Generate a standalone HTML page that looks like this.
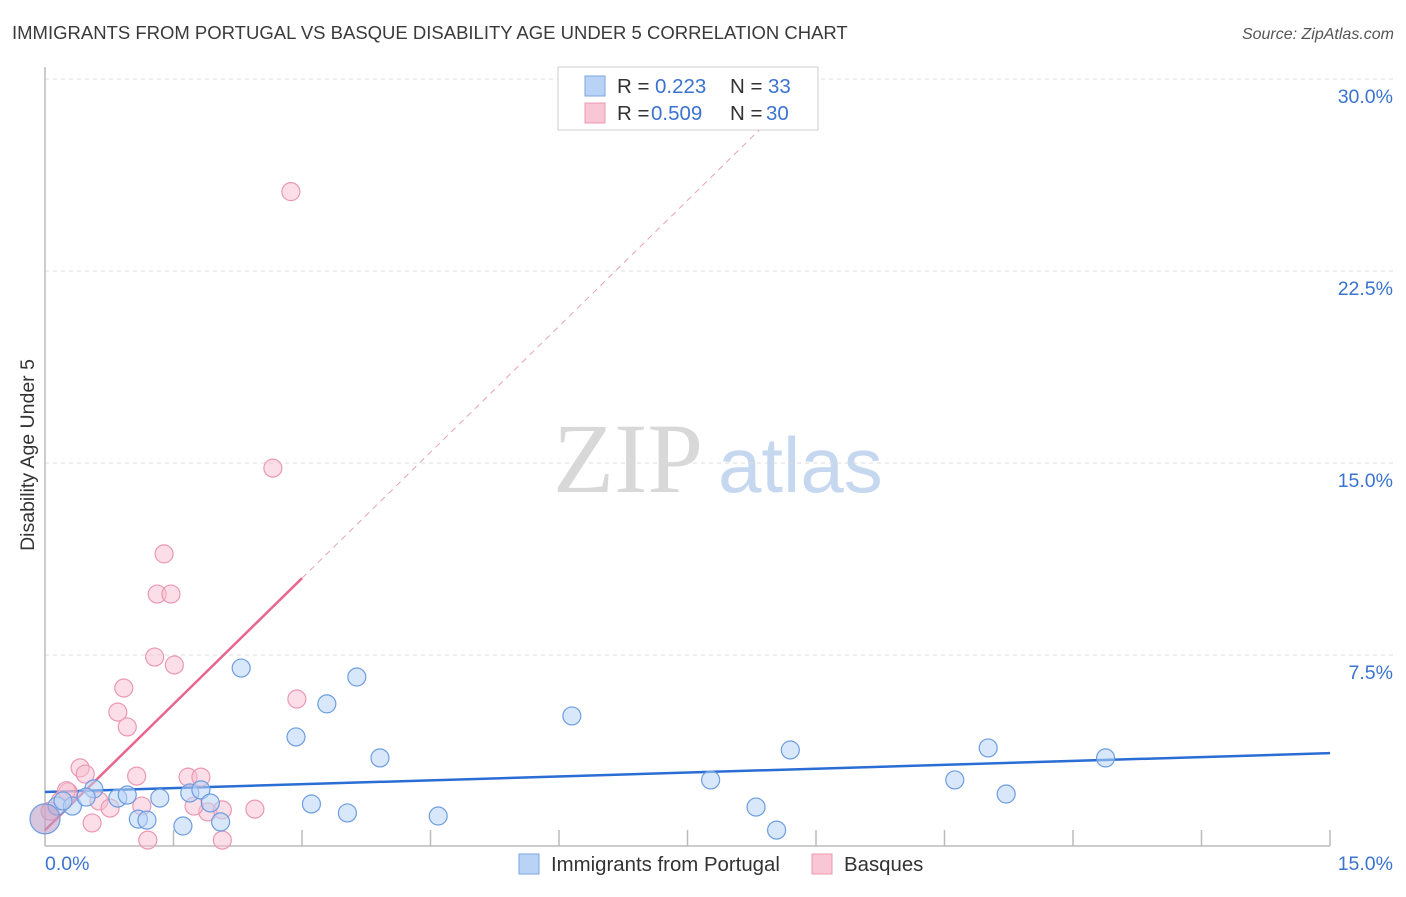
<!DOCTYPE html>
<html><head><meta charset="utf-8"><style>
body{margin:0;background:#fff;font-family:"Liberation Sans",sans-serif;}
</style></head><body>
<svg id="chart" width="1406" height="892" xmlns="http://www.w3.org/2000/svg" font-family="Liberation Sans, sans-serif">
<text x="12" y="39" font-size="18.5" fill="#3a3a3a">IMMIGRANTS FROM PORTUGAL VS BASQUE DISABILITY AGE UNDER 5 CORRELATION CHART</text>
<text x="1394" y="39" font-size="16" fill="#555" font-style="italic" text-anchor="end">Source: ZipAtlas.com</text>
<text transform="translate(34,455) rotate(-90)" font-size="19.5" fill="#333" text-anchor="middle">Disability Age Under 5</text>
<g>
<text x="553" y="492" font-size="100" fill="#d8d8d8" style="font-family:'Liberation Serif',serif">ZIP</text>
<text x="718" y="492" font-size="78" fill="#c6d8f0">atlas</text>
</g>
<g id="grid"></g>
<g id="axes"></g>
<g id="lines"></g>
<g id="pts"></g>
<g>
<rect x="558" y="67" width="260" height="63" fill="#fff" stroke="#ccc"/>
<rect x="585" y="76" width="20" height="20" fill="#b8d3f5" stroke="#7aa6e0"/>
<text x="617" y="93" font-size="20.5" fill="#333">R = </text><text x="655" y="93" font-size="20.5" fill="#3b73d0">0.223</text>
<text x="730" y="93" font-size="20.5" fill="#333">N = </text><text x="768" y="93" font-size="20.5" fill="#3b73d0">33</text>
<rect x="585" y="103" width="20" height="20" fill="#f8c6d5" stroke="#eb98b2"/>
<text x="617" y="120" font-size="20.5" fill="#333">R = </text><text x="651" y="120" font-size="20.5" fill="#3b73d0">0.509</text>
<text x="730" y="120" font-size="20.5" fill="#333">N = </text><text x="766" y="120" font-size="20.5" fill="#3b73d0">30</text>
</g>
<g>
<rect x="519" y="854" width="20" height="20" fill="#b8d3f5" stroke="#7aa6e0"/>
<text x="551" y="871" font-size="20.4" fill="#333">Immigrants from Portugal</text>
<rect x="812" y="854" width="20" height="20" fill="#f8c6d5" stroke="#eb98b2"/>
<text x="844" y="871" font-size="20.4" fill="#333">Basques</text>
</g>
</svg>
<script>
const yTicks=[7.5,15,22.5,30];
const yTickLabels=["7.5%","15.0%","22.5%","30.0%"];
const xTickLabels=["0.0%","15.0%"];
const blueX=[0.14,0.32,0.57,0.85,0.96,1.09,1.19,1.34,1.61,1.69,1.82,1.93,2.05,2.29,2.93,3.11,3.29,3.53,3.64,3.91,4.59,6.15,7.77,8.30,8.54,8.70,10.62,11.01,11.22,12.38,0.0,0.48,0.21];
const blueY=[1.6,1.6,2.27,1.91,2.03,1.09,1.05,1.91,0.82,2.11,2.23,1.72,0.98,6.99,4.3,1.68,5.59,1.33,6.64,3.48,1.21,5.12,2.62,1.56,0.66,3.79,2.62,3.87,2.07,3.48,1.1,1.95,1.8];
const pinkX=[2.87,2.66,1.39,1.31,1.47,1.28,1.51,0.92,0.85,0.96,2.94,0.41,0.47,1.07,1.67,1.82,0.27,0.55,0.63,0.76,1.13,1.90,2.07,2.45,1.20,2.07,0.18,0.06,0.25,1.74];
const pinkY=[25.6,14.8,11.45,9.88,9.88,7.42,7.11,6.21,5.27,4.69,5.78,3.09,2.85,2.77,2.73,2.73,2.15,0.94,1.8,1.52,1.6,1.37,1.45,1.48,0.27,0.27,1.8,1.4,2.2,1.6];
const blueFit=[2.15,0.101];
const pinkFit=[0.66,3.28];
const X0=45,X1=1330,Y0=847,PX=25.6;
const sx=v=>X0+(v/15)*(X1-X0), sy=v=>Y0-v*PX;
const NS="http://www.w3.org/2000/svg";
function mk(p,t,a){const e=document.createElementNS(NS,t);for(const k in a)e.setAttribute(k,a[k]);p.appendChild(e);return e;}
const grid=document.getElementById('grid'),axes=document.getElementById('axes'),lines=document.getElementById('lines'),pts=document.getElementById('pts');
yTicks.forEach((t,i)=>{
 const l=mk(grid,'line',{x1:X0,x2:1394,y1:sy(t),y2:sy(t),stroke:'#ddd','stroke-dasharray':'4,4'});
 
 
 const tx=mk(axes,'text',{x:1393,y:sy(t)+24,'font-size':19.5,fill:'#3b73d0','text-anchor':'end'});tx.textContent=yTickLabels[i];
 
 
});
const ya=mk(axes,'line',{x1:X0,x2:X0,y1:67,y2:846,stroke:'#bbb','stroke-width':1.5});


const xa=mk(axes,'line',{x1:X0,x2:X1,y1:846,y2:846,stroke:'#bbb','stroke-width':1.5});


for(let k=1;k<=10;k++){const t=mk(axes,'line',{x1:sx(k*1.5),x2:sx(k*1.5),y1:830,y2:846,stroke:'#bbb','stroke-width':1.5});
 
 }
const xl0=mk(axes,'text',{x:45,y:870,'font-size':19.5,fill:'#3b73d0'});xl0.textContent=xTickLabels[0];


const xl1=mk(axes,'text',{x:1393,y:870,'font-size':19.5,fill:'#3b73d0','text-anchor':'end'});xl1.textContent=xTickLabels[1];


const bl=mk(lines,'line',{x1:sx(0),y1:sy(blueFit[0]),x2:sx(15),y2:sy(blueFit[0]+blueFit[1]*15),stroke:'#2a6dd4','stroke-width':2.5});


const xs=3.0,xe=(30-pinkFit[0])/pinkFit[1];
const pl=mk(lines,'line',{x1:sx(0),y1:sy(pinkFit[0]),x2:sx(xs),y2:sy(pinkFit[0]+pinkFit[1]*xs),stroke:'#e8668e','stroke-width':2.5});


const pd=mk(lines,'line',{x1:sx(xs),y1:sy(pinkFit[0]+pinkFit[1]*xs),x2:sx(xe),y2:sy(30),stroke:'#e8a0b6','stroke-width':1,'stroke-dasharray':'6,5'});


pinkX.forEach((x,i)=>{const c=mk(pts,'circle',{cx:sx(x),cy:sy(pinkY[i]),r:9,fill:'rgba(248,190,208,0.5)',stroke:'#eb98b2','stroke-width':1.2});
 
 });
blueX.forEach((x,i)=>{const c=mk(pts,'circle',{cx:sx(x),cy:sy(blueY[i]),r:i==30?15:9,fill:i==30?'rgba(190,160,200,0.6)':'rgba(184,211,245,0.55)',stroke:'#6c9de0','stroke-width':1.2});
 
 });
</script>
</body></html>
